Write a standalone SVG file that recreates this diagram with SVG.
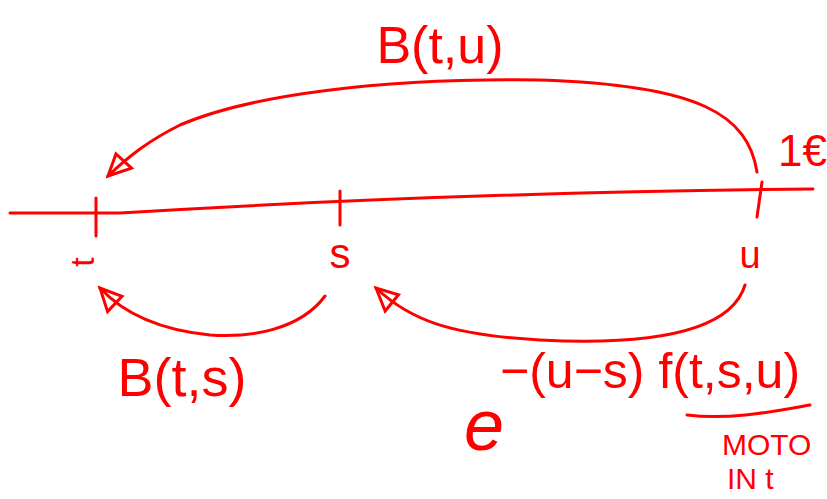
<svg xmlns="http://www.w3.org/2000/svg" width="827" height="499" viewBox="0 0 827 499">
<style>
.ln{fill:none;stroke:#ff0000;stroke-width:3;stroke-linecap:round;stroke-linejoin:round}
.tx{fill:#ff0000;font-family:"Liberation Sans",Arial,sans-serif}
</style>
<defs>
<marker id="ah" viewBox="0 0 20 20" refX="18" refY="10" markerWidth="30" markerHeight="30" markerUnits="userSpaceOnUse" orient="auto">
<path d="M18,10 L3,3 L4,17 Z" fill="none" stroke="#ff0000" stroke-width="2"/>
</marker>
</defs>
<rect width="827" height="499" fill="#ffffff"/>
<g id="axis">
<path class="ln" d="M10,213 L120,213 C250,205 500,192 813,189" stroke-width="2.5"/>
<path class="ln" d="M96,198 L96,236"/>
<path class="ln" d="M340,191 L340,225" stroke-width="2"/>
<path class="ln" d="M762,182 L757,217" stroke-width="2"/>
</g>
<g id="t-label"><text class="tx" x="94" y="262" font-size="34" text-anchor="middle" transform="rotate(-90 94 262)">t</text></g>
<g id="s-label"><text class="tx" x="340" y="268" font-size="42" text-anchor="middle">s</text></g>
<g id="u-label"><text class="tx" x="750" y="268" font-size="38" text-anchor="middle">u</text></g>
<g id="euro-label"><text class="tx" x="778" y="166" font-size="44">1€</text></g>
<g id="connectors">
<path class="ln" d="M757,172 C748,115 700,85 540,80 C380,78 250,95 180,125 C150,140 130,155 108,176" marker-end="url(#ah)"/>
<path class="ln" d="M745,285 C730,335 640,345 540,340 C450,335 410,320 376,288" marker-end="url(#ah)"/>
<path class="ln" d="M325,296 C300,330 250,338 210,335 C160,330 125,315 100,288" marker-end="url(#ah)"/>
<path class="ln" d="M687,415 C730,420 770,412 810,405" stroke-width="2.5"/>
</g>
<g id="B-t-u"><text class="tx" x="440" y="63" font-size="52" text-anchor="middle">B(t,u)</text></g>
<g id="B-t-s"><text class="tx" x="182" y="396" font-size="54" text-anchor="middle">B(t,s)</text></g>
<g id="discount">
<text class="tx" x="464" y="450" font-size="72" font-style="italic">e</text>
<text class="tx" x="500" y="388" font-size="50">−(u−s) f(t,s,u)</text>
</g>
<g id="moto-note">
<text class="tx" x="722" y="455" font-size="30">MOTO</text>
<text class="tx" x="727" y="489" font-size="30">IN t</text>
</g>
</svg>
